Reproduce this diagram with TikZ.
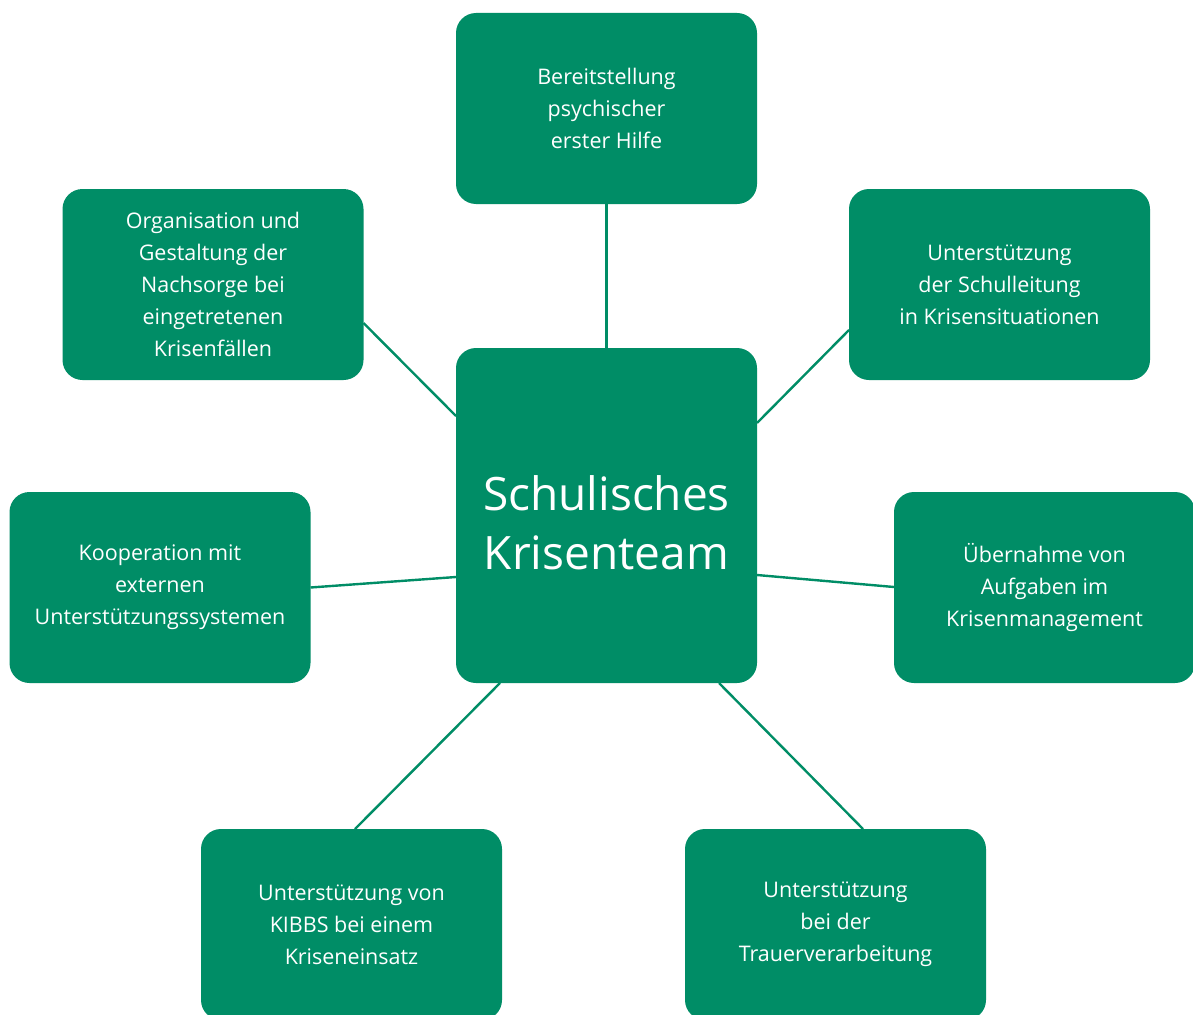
\documentclass[tikz,border=0pt]{standalone}
\usepackage{fontspec}
\setmainfont{Open Sans}
\usetikzlibrary{calc}
\definecolor{kgreen}{RGB}{0,141,102}
\begin{document}
\begin{tikzpicture}[x=1pt,y=-1pt,
  box/.style={draw=none,fill=kgreen,rounded corners=20pt,minimum width=301pt,minimum height=191pt,
    inner sep=0pt,outer sep=0pt,align=center,text=white,font=\fontsize{21.5}{32}\selectfont},
  conn/.style={draw=kgreen,line width=2.4pt}]
\clip (0,0) rectangle (1193,1014);
\fill[white] (0,0) rectangle (1193,1014);
\node[box,minimum height=335pt] (c) at (606.5,515.5) {};
\node[align=center,text=white,inner sep=0pt,font=\fontsize{46}{59}\selectfont] (ct) at (606.5,523) {Schulisches\\Krisenteam};
\node[box] (t) at (606.5,108.5) {Bereitstellung\\psychischer\\erster Hilfe};
\node[box] (tl) at (213,284.5) {Organisation und\\Gestaltung der\\Nachsorge bei\\eingetretenen\\Krisenfällen};
\node[box] (tr) at (999.5,284.5) {Unterstützung\\der Schulleitung\\in Krisensituationen};
\node[box] (l) at (160,587.5) {Kooperation mit\\externen\\Unterstützungssystemen};
\node[box] (r) at (1044.5,587.5) {Übernahme von\\Aufgaben im\\Krisenmanagement};
\node[box] (bl) at (351.5,924.5) {Unterstützung von\\KIBBS bei einem\\Kriseneinsatz};
\node[box] (br) at (835.5,924.5) {Unterstützung\\bei der\\Trauerverarbeitung};
\draw[conn] (t.south) -- (c.north);
\draw[conn] ($(tl.east)+(0,38.5)$) -- ($(c.west)+(0,-99.5)$);
\draw[conn] ($(tr.west)+(0,45.5)$) -- ($(c.east)+(0,-92.5)$);
\draw[conn] (l.east) -- ($(c.west)+(0,61.5)$);
\draw[conn] ($(c.east)+(0,59.5)$) -- ($(r.west)+(0,-0.5)$);
\draw[conn] ($(c.south west)+(44,0)$) -- ($(bl.north)+(3.5,0)$);
\draw[conn] ($(c.south west)+(263,0)$) -- ($(br.north)+(27.5,0)$);
\end{tikzpicture}
\end{document}
